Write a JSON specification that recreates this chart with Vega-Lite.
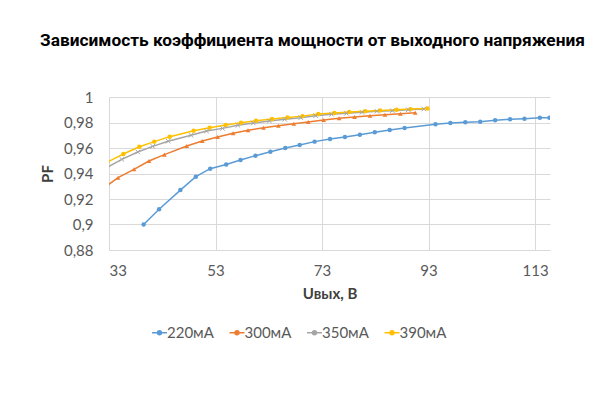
{
  "$schema": "https://vega.github.io/schema/vega-lite/v6.json",
  "description": "PF versus output voltage for four load currents.",
  "width": 441,
  "height": 153,
  "autosize": "none",
  "padding": {"left": 109, "top": 97, "right": 50, "bottom": 150},
  "background": "white",
  "title": {
    "text": "Зависимость коэффициента мощности от выходного напряжения",
    "font": "Roboto",
    "fontSize": 17.3,
    "fontWeight": "bold",
    "color": "#000000",
    "anchor": "middle",
    "frame": "group",
    "baseline": "alphabetic",
    "dx": -17,
    "offset": 27
  },
  "data": {
    "values": [
      {"series": "220мА", "u": 39.5, "pf": 0.900},
      {"series": "220мА", "u": 42.4, "pf": 0.912},
      {"series": "220мА", "u": 46.4, "pf": 0.927},
      {"series": "220мА", "u": 49.3, "pf": 0.9375},
      {"series": "220мА", "u": 52.0, "pf": 0.9438},
      {"series": "220мА", "u": 55.0, "pf": 0.947},
      {"series": "220мА", "u": 57.7, "pf": 0.9506},
      {"series": "220мА", "u": 60.5, "pf": 0.954},
      {"series": "220мА", "u": 63.3, "pf": 0.957},
      {"series": "220мА", "u": 66.1, "pf": 0.960},
      {"series": "220мА", "u": 68.8, "pf": 0.9624},
      {"series": "220мА", "u": 71.6, "pf": 0.965},
      {"series": "220мА", "u": 74.5, "pf": 0.967},
      {"series": "220мА", "u": 77.3, "pf": 0.9686},
      {"series": "220мА", "u": 80.1, "pf": 0.9704},
      {"series": "220мА", "u": 82.9, "pf": 0.9723},
      {"series": "220мА", "u": 85.7, "pf": 0.9741},
      {"series": "220мА", "u": 88.5, "pf": 0.9757},
      {"series": "220мА", "u": 94.3, "pf": 0.9786},
      {"series": "220мА", "u": 97.1, "pf": 0.9796},
      {"series": "220мА", "u": 99.9, "pf": 0.9802},
      {"series": "220мА", "u": 102.7, "pf": 0.9806},
      {"series": "220мА", "u": 105.5, "pf": 0.9817},
      {"series": "220мА", "u": 108.3, "pf": 0.9825},
      {"series": "220мА", "u": 111.0, "pf": 0.983},
      {"series": "220мА", "u": 113.9, "pf": 0.9838},
      {"series": "220мА", "u": 115.7, "pf": 0.9838},
      {"series": "300мА", "u": 31.8, "pf": 0.928},
      {"series": "300мА", "u": 34.7, "pf": 0.9367},
      {"series": "300мА", "u": 37.7, "pf": 0.9433},
      {"series": "300мА", "u": 40.5, "pf": 0.9498},
      {"series": "300мА", "u": 43.4, "pf": 0.9548},
      {"series": "300мА", "u": 47.6, "pf": 0.9616},
      {"series": "300мА", "u": 50.5, "pf": 0.9655},
      {"series": "300мА", "u": 53.4, "pf": 0.9686},
      {"series": "300мА", "u": 56.3, "pf": 0.9715},
      {"series": "300мА", "u": 59.1, "pf": 0.9739},
      {"series": "300мА", "u": 62.0, "pf": 0.9759},
      {"series": "300мА", "u": 64.8, "pf": 0.9775},
      {"series": "300мА", "u": 67.7, "pf": 0.979},
      {"series": "300мА", "u": 70.4, "pf": 0.9804},
      {"series": "300мА", "u": 73.3, "pf": 0.982},
      {"series": "300мА", "u": 76.2, "pf": 0.9833},
      {"series": "300мА", "u": 79.1, "pf": 0.9843},
      {"series": "300мА", "u": 82.0, "pf": 0.9853},
      {"series": "300мА", "u": 84.8, "pf": 0.9861},
      {"series": "300мА", "u": 87.7, "pf": 0.9869},
      {"series": "300мА", "u": 90.5, "pf": 0.9877},
      {"series": "350мА", "u": 32.5, "pf": 0.9445},
      {"series": "350мА", "u": 35.4, "pf": 0.9511},
      {"series": "350мА", "u": 38.4, "pf": 0.9569},
      {"series": "350мА", "u": 41.2, "pf": 0.9613},
      {"series": "350мА", "u": 44.1, "pf": 0.9653},
      {"series": "350мА", "u": 48.4, "pf": 0.970},
      {"series": "350мА", "u": 51.3, "pf": 0.9733},
      {"series": "350мА", "u": 54.3, "pf": 0.9754},
      {"series": "350мА", "u": 57.2, "pf": 0.9778},
      {"series": "350мА", "u": 60.1, "pf": 0.9796},
      {"series": "350мА", "u": 63.1, "pf": 0.9812},
      {"series": "350мА", "u": 66.0, "pf": 0.9825},
      {"series": "350мА", "u": 69.0, "pf": 0.9838},
      {"series": "350мА", "u": 71.8, "pf": 0.9853},
      {"series": "350мА", "u": 74.8, "pf": 0.9864},
      {"series": "350мА", "u": 77.6, "pf": 0.9872},
      {"series": "350мА", "u": 80.5, "pf": 0.988},
      {"series": "350мА", "u": 83.3, "pf": 0.9888},
      {"series": "350мА", "u": 86.2, "pf": 0.9893},
      {"series": "350мА", "u": 89.2, "pf": 0.990},
      {"series": "350мА", "u": 92.1, "pf": 0.9906},
      {"series": "390мА", "u": 32.7, "pf": 0.949},
      {"series": "390мА", "u": 35.7, "pf": 0.9553},
      {"series": "390мА", "u": 38.7, "pf": 0.961},
      {"series": "390мА", "u": 41.5, "pf": 0.965},
      {"series": "390мА", "u": 44.4, "pf": 0.9689},
      {"series": "390мА", "u": 48.9, "pf": 0.9736},
      {"series": "390мА", "u": 51.9, "pf": 0.9759},
      {"series": "390мА", "u": 54.9, "pf": 0.978},
      {"series": "390мА", "u": 57.8, "pf": 0.9798},
      {"series": "390мА", "u": 60.6, "pf": 0.9814},
      {"series": "390мА", "u": 63.6, "pf": 0.9827},
      {"series": "390мА", "u": 66.5, "pf": 0.984},
      {"series": "390мА", "u": 69.3, "pf": 0.985},
      {"series": "390мА", "u": 72.3, "pf": 0.9866},
      {"series": "390мА", "u": 75.3, "pf": 0.9874},
      {"series": "390мА", "u": 78.1, "pf": 0.9882},
      {"series": "390мА", "u": 81.1, "pf": 0.9889},
      {"series": "390мА", "u": 83.9, "pf": 0.9894},
      {"series": "390мА", "u": 87.0, "pf": 0.990},
      {"series": "390мА", "u": 89.6, "pf": 0.9905},
      {"series": "390мА", "u": 92.8, "pf": 0.991}
    ]
  },
  "encoding": {
    "x": {
      "field": "u",
      "type": "quantitative",
      "title": "Uвых, В",
      "scale": {"domain": [33, 115.8], "nice": false, "zero": false},
      "axis": {"values": [33, 53, 73, 93, 113], "format": "d", "labelPadding": 13, "titlePadding": 8}
    },
    "y": {
      "field": "pf",
      "type": "quantitative",
      "title": "PF",
      "scale": {"domain": [0.88, 1], "nice": false, "zero": false},
      "axis": {
        "values": [0.88, 0.9, 0.92, 0.94, 0.96, 0.98, 1],
        "labelExpr": "replace(format(datum.value, '~g'), '.', ',')",
        "labelPadding": 16,
        "titlePadding": 8
      }
    },
    "color": {
      "field": "series",
      "type": "nominal",
      "scale": {
        "domain": ["220мА", "300мА", "350мА", "390мА"],
        "range": ["#5B9BD5", "#ED7D31", "#A5A5A5", "#FFC000"]
      },
      "legend": {
        "title": null,
        "orient": "none",
        "direction": "horizontal",
        "legendX": 42,
        "legendY": 227,
        "symbolType": "M-1,0L1,0M-0.26,0A0.26,0.26,0,1,0,0.26,0A0.26,0.26,0,1,0,-0.26,0Z",
        "symbolSize": 225,
        "symbolStrokeWidth": 1.5,
        "labelFont": "Lato",
        "labelFontSize": 15,
        "labelColor": "#595959",
        "labelOffset": -1,
        "columnPadding": 12.5,
        "encode": {
          "symbols": {
            "update": {
              "stroke": {"scale": "color", "field": "value"},
              "fill": {"scale": "color", "field": "value"}
            }
          }
        }
      }
    }
  },
  "layer": [
    {
      "mark": {"type": "line", "clip": true, "strokeWidth": 1.5}
    },
    {
      "transform": [{"filter": "datum.series === '220мА' || datum.series === '390мА'"}],
      "mark": {"type": "point", "shape": "circle", "filled": true, "clip": true, "size": 20, "opacity": 1}
    },
    {
      "transform": [{"filter": "datum.series === '300мА'"}],
      "mark": {"type": "point", "shape": "triangle-up", "filled": true, "clip": true, "size": 22, "opacity": 1}
    },
    {
      "transform": [{"filter": "datum.series === '350мА'"}],
      "mark": {"type": "point", "shape": "M-1,-1L1,1M1,-1L-1,1", "filled": false, "clip": true, "size": 20, "opacity": 1, "strokeWidth": 1}
    }
  ],
  "config": {
    "view": {"stroke": null},
    "axis": {
      "domain": false,
      "ticks": false,
      "gridColor": "#D9D9D9",
      "gridWidth": 1,
      "labelFont": "Lato",
      "labelFontSize": 15,
      "labelColor": "#595959",
      "titleFont": "Lato",
      "titleFontSize": 15,
      "titleFontWeight": "bold",
      "titleColor": "#404040"
    }
  }
}
